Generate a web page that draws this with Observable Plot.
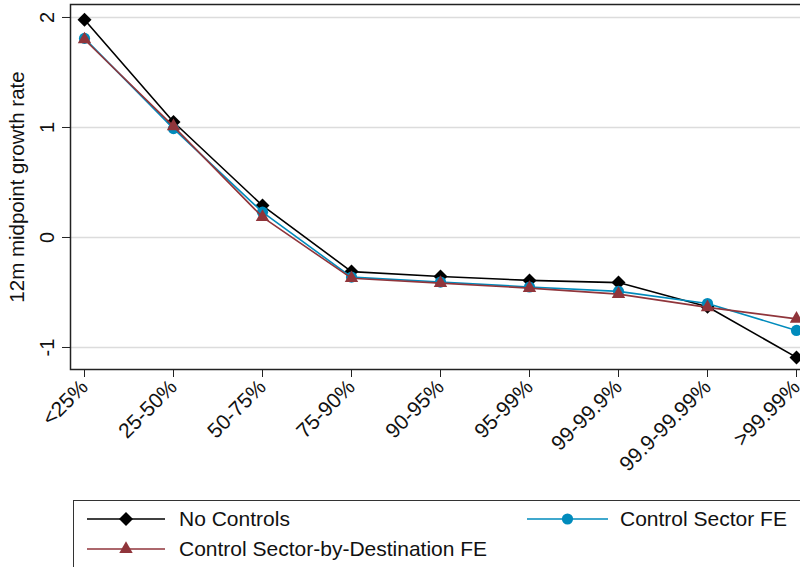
<!DOCTYPE html>
<html>
<head>
<meta charset="utf-8">
<script src="https://cdn.jsdelivr.net/npm/d3@7"></script>
<script src="https://cdn.jsdelivr.net/npm/@observablehq/plot@0.6"></script>
<style>
  html, body { margin: 0; padding: 0; background: #fff; overflow: hidden; width: 800px; height: 567px; }
  #chart { width: 800px; overflow: hidden; }
  #chart svg { max-width: none !important; display: block; font-family: "Liberation Sans", Arial, sans-serif; }
</style>
</head>
<body>
<div id="chart"></div>
<script>
const categories = ["<25%", "25-50%", "50-75%", "75-90%", "90-95%", "95-99%", "99-99.9%", "99.9-99.99%", ">99.99%"];
const seriesNames = ["No Controls", "Control Sector FE", "Control Sector-by-Destination FE"];
const noControls   = [1.98, 1.05, 0.29, -0.31, -0.355, -0.39, -0.41, -0.63, -1.09];
const sectorFE     = [1.81, 0.99, 0.23, -0.36, -0.405, -0.45, -0.49, -0.60, -0.845];
const sectorDestFE = [1.80, 1.01, 0.185, -0.37, -0.415, -0.46, -0.515, -0.635, -0.74];
const yTicks = [-1, 0, 1, 2];

const colors = ["#000000", "#008bbc", "#90353b"];
const symbols = ["diamond2", "circle", "triangle"];
const radii = [6.3, 5.6, 5.0];
const valuesList = [noControls, sectorFE, sectorDestFE];

const series = valuesList.map((vals, i) => categories.map((c, j) => ({cat: c, value: vals[j], series: seriesNames[i]})));

const marks = [
  Plot.gridY(yTicks, {stroke: "#dcdcdc", strokeOpacity: 1, strokeWidth: 1.5}),
  Plot.axisY(yTicks, {tickSize: 8, tickPadding: 9, tickRotate: -90, fontSize: 20, tickFormat: d => String(d), label: null, stroke: "#222"}),
  Plot.axisY([], {fontSize: 20.5, label: "12m midpoint growth rate", labelAnchor: "center", labelArrow: "none", labelOffset: 61, tickSize: 0}),
  Plot.axisX({tickRotate: -45, tickSize: 8, tickPadding: 6, fontSize: 21, label: null, stroke: "#222"}),
];
series.forEach((data, i) => {
  marks.push(Plot.line(data, {x: "cat", y: "value", stroke: colors[i], strokeWidth: 1.6}));
  marks.push(Plot.dot(data, {x: "cat", y: "value", symbol: () => symbols[i], fill: colors[i], stroke: "none", r: radii[i]}));
});
marks.push(Plot.frame({stroke: "#222", strokeWidth: 1.5}));

const chart = Plot.plot({
  width: 830,
  height: 495,
  marginLeft: 70,
  marginRight: 0,
  marginTop: 4,
  marginBottom: 126,
  style: {fontFamily: "'Liberation Sans', Arial, sans-serif", color: "#111", background: "#fff", maxWidth: "none"},
  x: {type: "point", domain: categories, range: [83, 797], padding: 0},
  y: {domain: [-1.2, 2.118]},
  symbol: {type: "identity"},
  marks
});
document.getElementById("chart").appendChild(chart);

// Legend below the plot
const legW = 800, legH = 72;
const leg = d3.select("#chart").append("svg")
  .attr("width", legW).attr("height", legH)
  .style("display", "block")
  .style("font-family", "'Liberation Sans', Arial, sans-serif");
leg.append("rect").attr("x", 73.5).attr("y", 5.5).attr("width", 760).attr("height", 100)
  .attr("fill", "#fff").attr("stroke", "#333").attr("stroke-width", 1);
const entries = [
  {i: 0, x0: 87, x1: 165, tx: 179, cy: 24},
  {i: 1, x0: 527, x1: 608, tx: 620, cy: 24},
  {i: 2, x0: 87, x1: 165, tx: 179, cy: 54}
];
entries.forEach(e => {
  const g = leg.append("g");
  g.append("line").attr("x1", e.x0).attr("x2", e.x1).attr("y1", e.cy).attr("y2", e.cy)
    .attr("stroke", colors[e.i]).attr("stroke-width", 1.6);
  const sym = {diamond2: d3.symbolDiamond2, circle: d3.symbolCircle, triangle: d3.symbolTriangle}[symbols[e.i]];
  g.append("path").attr("d", d3.symbol(sym, Math.PI * radii[e.i] * radii[e.i])())
    .attr("transform", `translate(${(e.x0 + e.x1) / 2},${e.cy})`).attr("fill", colors[e.i]);
  g.append("text").attr("x", e.tx).attr("y", e.cy).attr("dy", "0.35em")
    .attr("font-size", 21).attr("fill", "#111").text(seriesNames[e.i]);
});
</script>
</body>
</html>
